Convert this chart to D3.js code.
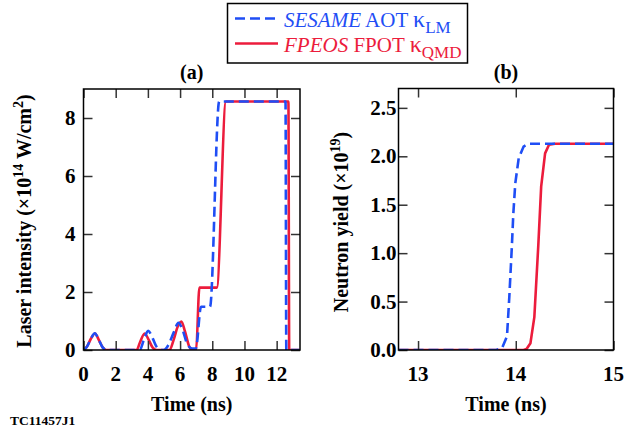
<!DOCTYPE html>
<html>
<head>
<meta charset="utf-8">
<script src="https://cdn.jsdelivr.net/npm/d3@7"></script>
<style>
  html, body { margin: 0; padding: 0; background: #fff; }
  svg { display: block; }
  text { font-family: "Liberation Serif", "Times New Roman", serif; }
</style>
</head>
<body>
<svg id="fig" width="627" height="434"></svg>
<script>
// Laser pulse shapes, intensity in 1e14 W/cm^2 vs time in ns
const pulseTimeFP = [0, 0.2, 0.45, 0.72, 0.95, 1.2, 1.4, 3.3, 3.5, 3.8, 4.05, 4.3, 4.55, 5.35, 5.6, 5.85, 6.08, 6.3, 6.55, 6.72, 7.0, 7.2, 8.28, 8.85, 12.73, 12.78, 13.4];
const pulseValFP  = [0, 0.1, 0.38, 0.57, 0.35, 0.08, 0, 0, 0.25, 0.57, 0.35, 0.08, 0, 0, 0.35, 0.8, 0.98, 0.65, 0.15, 0, 0.02, 2.15, 2.15, 8.57, 8.57, 0, 0];
const pulseTimeSE = [0, 0.2, 0.45, 0.7, 0.95, 1.2, 1.45, 3.5, 3.75, 4.02, 4.3, 4.55, 4.8, 5.0, 5.3, 5.6, 5.9, 6.15, 6.45, 6.75, 6.98, 7.3, 7.86, 8.43, 12.55, 12.6, 13.4];
const pulseValSE  = [0, 0.1, 0.38, 0.58, 0.35, 0.08, 0, 0, 0.35, 0.66, 0.4, 0.1, 0, 0, 0.2, 0.6, 0.94, 0.7, 0.2, 0.05, 0.05, 1.49, 1.49, 8.57, 8.57, 0, 0];

// Neutron yield in 1e19 vs time in ns
const yieldTimeSE = [12.8, 13.8, 13.86, 13.91, 13.934, 13.96, 13.975, 13.995, 14.03, 14.08, 14.13, 15];
const yieldValSE  = [0, 0, 0.02, 0.14, 0.55, 1.07, 1.41, 1.72, 1.98, 2.10, 2.13, 2.13];
const yieldTimeFP = [12.8, 14.08, 14.11, 14.15, 14.19, 14.23, 14.26, 14.30, 14.34, 14.4, 15];
const yieldValFP  = [0, 0, 0.01, 0.07, 0.34, 1.07, 1.69, 2.03, 2.12, 2.13, 2.13];

const ticksA_x = [0, 2, 4, 6, 8, 10, 12];
const ticksA_y = [0, 2, 4, 6, 8];
const ticksB_x = [13, 14, 15];
const ticksB_y = [0, 0.5, 1.0, 1.5, 2.0, 2.5];

const BLUE = "#1f4ef5";
const RED = "#ec1c3c";

const svg = d3.select("#fig");

function zip(ts, vs) { return ts.map((t, i) => ({ t, v: vs[i] })); }

function panel(cfg) {
  const x = d3.scaleLinear().domain(cfg.xDomain).range([cfg.left, cfg.right]);
  const y = d3.scaleLinear().domain(cfg.yDomain).range([cfg.bottom, cfg.top]);
  const g = svg.append("g");
  const clipId = "clip-" + cfg.id;
  svg.append("clipPath").attr("id", clipId).append("rect")
    .attr("x", cfg.left).attr("y", cfg.top)
    .attr("width", cfg.right - cfg.left).attr("height", cfg.bottom - cfg.top);

  const line = d3.line().x(d => x(d.t)).y(d => y(d.v)).curve(cfg.curve);
  const lines = g.append("g").attr("clip-path", `url(#${clipId})`);
  lines.append("path").datum(cfg.red).attr("d", line)
    .attr("fill", "none").attr("stroke", RED).attr("stroke-width", 2.6)
    .attr("stroke-linejoin", "round");
  lines.append("path").datum(cfg.blue).attr("d", line)
    .attr("fill", "none").attr("stroke", BLUE).attr("stroke-width", 2.6)
    .attr("stroke-dasharray", "10,5");

  const tl = 9;
  // inward ticks on all four sides
  const axB = d3.axisTop(x).tickValues(cfg.xTicks).tickSize(tl).tickFormat("");
  const axT = d3.axisBottom(x).tickValues(cfg.xTicks).tickSize(tl).tickFormat("");
  const axL = d3.axisRight(y).tickValues(cfg.yTicks).tickSize(tl).tickFormat("");
  const axR = d3.axisLeft(y).tickValues(cfg.yTicks).tickSize(tl).tickFormat("");
  [[axB, `translate(0,${cfg.bottom})`], [axT, `translate(0,${cfg.top})`],
   [axL, `translate(${cfg.left},0)`], [axR, `translate(${cfg.right},0)`]].forEach(([ax, tr]) => {
    const a = g.append("g").attr("transform", tr).call(ax);
    a.select(".domain").remove();
    a.selectAll("line").attr("stroke", "#333").attr("stroke-width", 1.5);
  });

  g.append("rect").attr("x", cfg.left).attr("y", cfg.top)
    .attr("width", cfg.right - cfg.left).attr("height", cfg.bottom - cfg.top)
    .attr("fill", "none").attr("stroke", "#000").attr("stroke-width", 1.5);

  // tick labels
  g.selectAll(".xl").data(cfg.xTicks).enter().append("text")
    .attr("x", d => x(d)).attr("y", 381)
    .attr("text-anchor", "middle").attr("font-size", 21).attr("font-weight", "bold")
    .text(d => d);
  g.selectAll(".yl").data(cfg.yTicks).enter().append("text")
    .attr("x", cfg.left - cfg.yLabelGap).attr("y", d => y(d) + 7)
    .attr("text-anchor", "end").attr("font-size", 21).attr("font-weight", "bold")
    .text(cfg.yFormat);

  // axis titles
  g.append("text").attr("x", (cfg.left + cfg.right) / 2).attr("y", 411)
    .attr("text-anchor", "middle").attr("font-size", 20).attr("font-weight", "bold")
    .text("Time (ns)");
  g.append("text").attr("x", (cfg.left + cfg.right) / 2).attr("y", 79)
    .attr("text-anchor", "middle").attr("font-size", 20).attr("font-weight", "bold")
    .text(cfg.title);

  const yt = g.append("text")
    .attr("transform", `translate(${cfg.yTitleX},${cfg.yTitleY}) rotate(-90)`)
    .attr("text-anchor", "middle").attr("font-size", 20).attr("font-weight", "bold");
  cfg.yTitle.forEach(p => {
    const ts = yt.append("tspan").text(p.s);
    if (p.sup) ts.attr("font-size", 14).attr("dy", -8);
    if (p.back) ts.attr("dy", 8);
  });
}

panel({
  id: "a", left: 83.5, right: 300, top: 89, bottom: 350,
  xDomain: [0, 13.45], yDomain: [0, 9.0],
  xTicks: ticksA_x, yTicks: ticksA_y, yFormat: d => d, yLabelGap: 8,
  curve: d3.curveMonotoneX,
  red: zip(pulseTimeFP, pulseValFP), blue: zip(pulseTimeSE, pulseValSE),
  title: "(a)", yTitleX: 31, yTitleY: 221,
  yTitle: [{ s: "Laser intensity (×10" }, { s: "14", sup: true }, { s: " W/cm", back: true },
           { s: "2", sup: true }, { s: ")", back: true }]
});

panel({
  id: "b", left: 398.5, right: 613.5, top: 88.5, bottom: 350,
  xDomain: [12.8, 15], yDomain: [0, 2.7],
  xTicks: ticksB_x, yTicks: ticksB_y, yFormat: d3.format(".1f"), yLabelGap: 2,
  curve: d3.curveLinear,
  red: zip(yieldTimeFP, yieldValFP), blue: zip(yieldTimeSE, yieldValSE),
  title: "(b)", yTitleX: 348, yTitleY: 222,
  yTitle: [{ s: "Neutron yield (×10" }, { s: "19", sup: true }, { s: ")", back: true }]
});

// legend
const lg = svg.append("g");
lg.append("rect").attr("x", 227.5).attr("y", 3.5).attr("width", 240).attr("height", 59.5)
  .attr("fill", "#fff").attr("stroke", "#000").attr("stroke-width", 1.5);
const legendRows = [
  { color: BLUE, dash: "10,5", y: 18.5, it: "SESAME", rest: " AOT ", sub: "LM" },
  { color: RED, dash: null, y: 43.5, it: "FPEOS", rest: " FPOT ", sub: "QMD" }
];
legendRows.forEach(r => {
  lg.append("line").attr("x1", 235).attr("x2", 278).attr("y1", r.y).attr("y2", r.y)
    .attr("stroke", r.color).attr("stroke-width", 2.6)
    .attr("stroke-dasharray", r.dash);
  const t = lg.append("text").attr("x", 284).attr("y", r.y + 8)
    .attr("font-size", 21).attr("fill", r.color);
  t.append("tspan").attr("font-style", "italic").text(r.it);
  t.append("tspan").text(r.rest);
  t.append("tspan").attr("font-size", 24).text("κ");
  t.append("tspan").attr("font-size", 17).attr("dy", 6).text(r.sub);
});

svg.append("text").attr("x", 10).attr("y", 425).attr("font-size", 13.5)
  .attr("font-weight", "bold").text("TC11457J1");
</script>
</body>
</html>
